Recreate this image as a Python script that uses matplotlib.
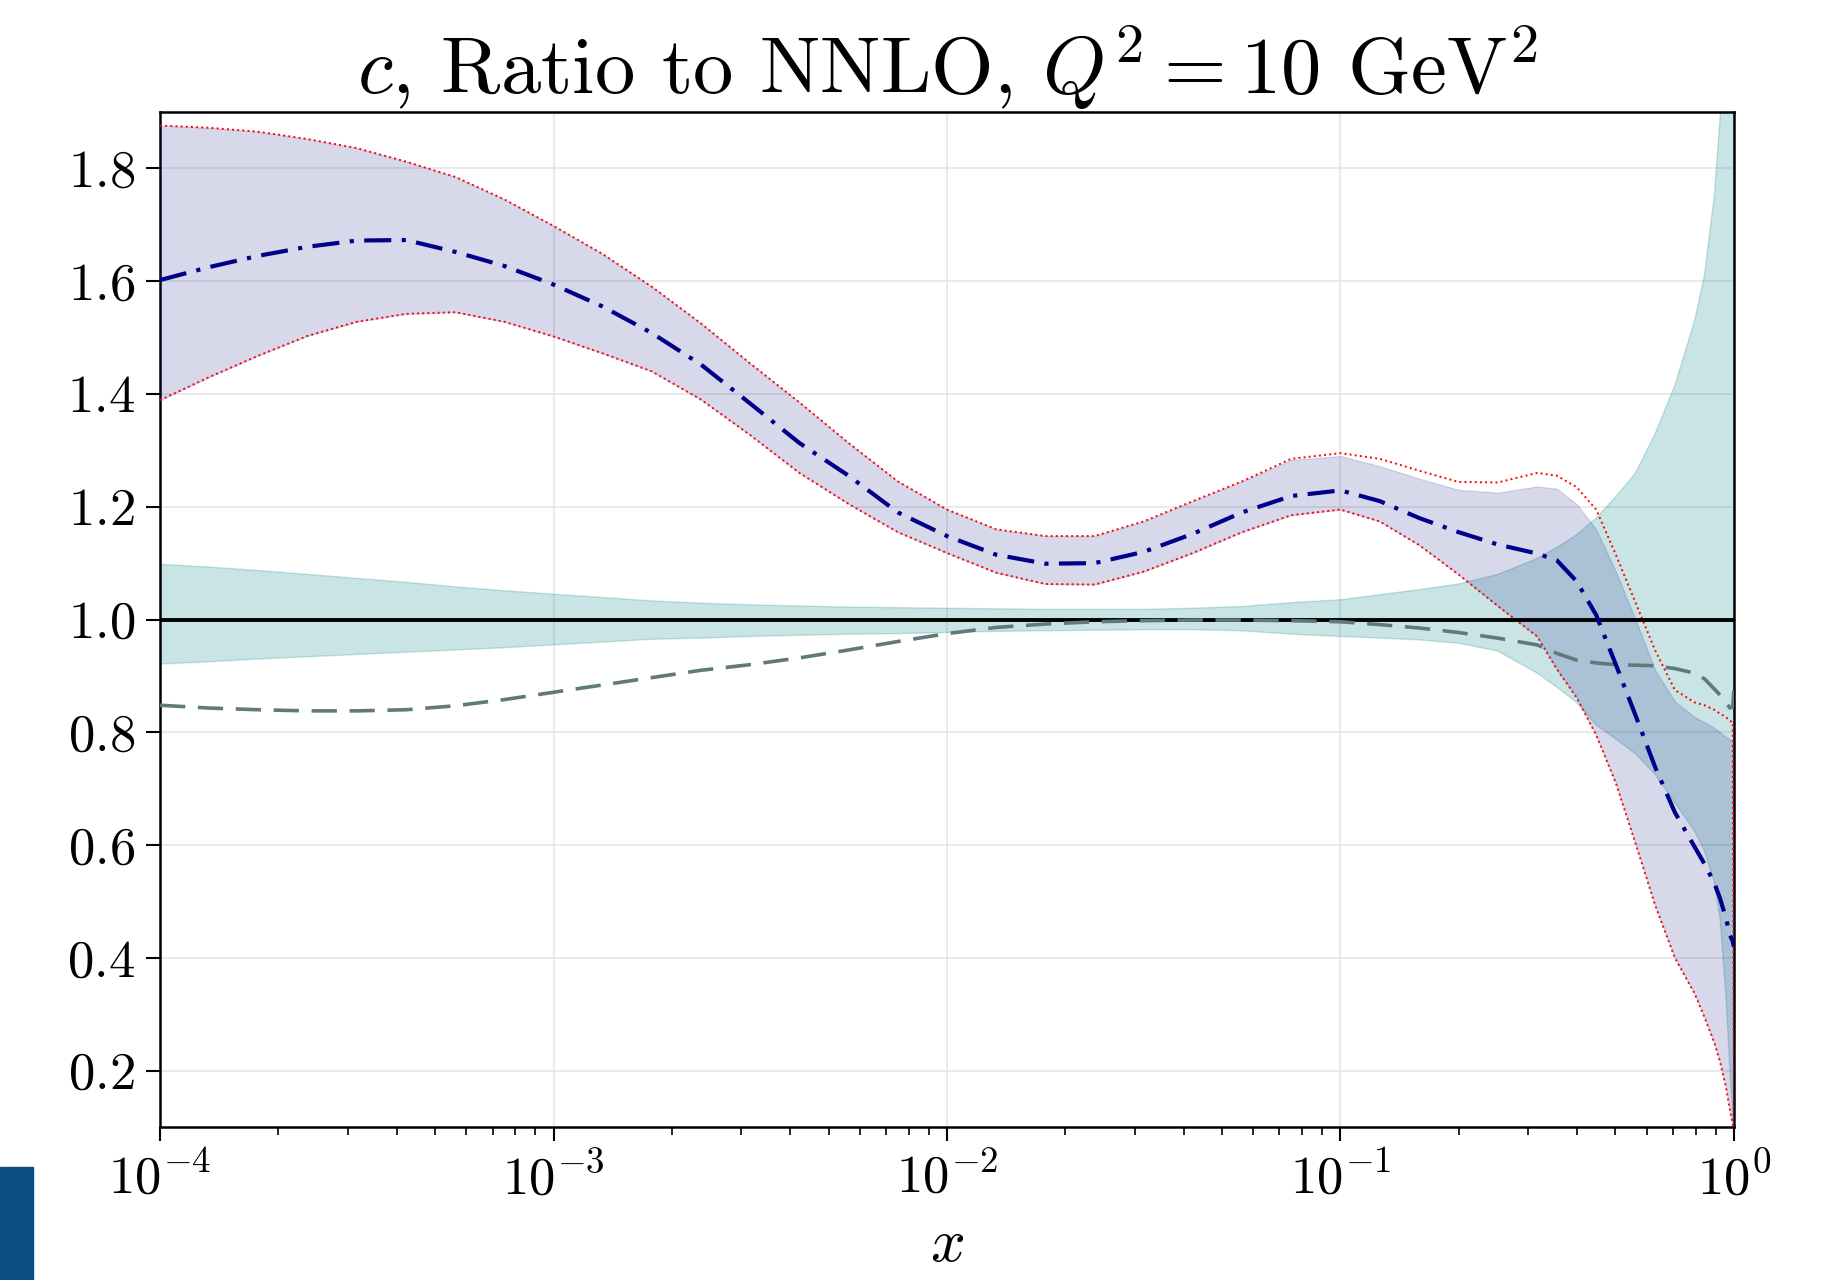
import matplotlib
matplotlib.use("Agg")
import matplotlib.pyplot as plt
import matplotlib.patches as patches
import numpy as np

plt.rcParams['font.family'] = 'serif'
plt.rcParams['font.serif'] = ['cmr10', 'DejaVu Serif']
plt.rcParams['mathtext.fontset'] = 'cm'
plt.rcParams['axes.formatter.use_mathtext'] = True

# x grid, stored as log10(x)
log10_x = [-4.0, -3.875, -3.75, -3.625, -3.5, -3.375, -3.25, -3.125, -3.0, -2.875,
           -2.75, -2.625, -2.5, -2.375, -2.25, -2.125, -2.0, -1.875, -1.75, -1.625,
           -1.5, -1.375, -1.25, -1.125, -1.0, -0.9, -0.8, -0.7, -0.6, -0.5,
           -0.45, -0.4, -0.35, -0.3, -0.25, -0.2, -0.15, -0.1, -0.075, -0.05,
           -0.035, -0.02, -0.01, -0.003, 0.0]

# central value of the fit (dash-dot)
central = [1.602, 1.625, 1.645, 1.661, 1.672, 1.673, 1.652, 1.627, 1.594, 1.555,
           1.508, 1.452, 1.383, 1.313, 1.255, 1.190, 1.148, 1.115, 1.099, 1.100,
           1.120, 1.152, 1.190, 1.219, 1.229, 1.210, 1.180, 1.155, 1.133, 1.117,
           1.105, 1.068, 1.008, 0.920, 0.830, 0.738, 0.658, 0.597, 0.567, 0.533,
           0.505, 0.470, 0.440, 0.430, 0.420]

# red dotted envelope
env_hi = [1.876, 1.872, 1.865, 1.852, 1.836, 1.812, 1.785, 1.745, 1.698, 1.648,
          1.590, 1.525, 1.454, 1.385, 1.313, 1.245, 1.195, 1.160, 1.148, 1.148,
          1.174, 1.210, 1.245, 1.285, 1.295, 1.285, 1.264, 1.244, 1.243, 1.260,
          1.255, 1.235, 1.195, 1.115, 1.030, 0.945, 0.875, 0.853, 0.848, 0.840,
          0.833, 0.827, 0.820, 0.818, 0.100]
env_lo = [1.389, 1.430, 1.468, 1.503, 1.528, 1.542, 1.545, 1.528, 1.502, 1.472,
          1.440, 1.390, 1.327, 1.260, 1.205, 1.155, 1.118, 1.083, 1.063, 1.062,
          1.085, 1.118, 1.155, 1.185, 1.195, 1.174, 1.132, 1.080, 1.024, 0.970,
          0.912, 0.862, 0.795, 0.710, 0.603, 0.493, 0.400, 0.337, 0.295, 0.250,
          0.215, 0.170, 0.130, 0.105, 0.080]

# shaded band of the fit
band_hi = [1.876, 1.872, 1.865, 1.852, 1.836, 1.812, 1.785, 1.745, 1.698, 1.648,
           1.590, 1.525, 1.454, 1.385, 1.313, 1.245, 1.195, 1.160, 1.148, 1.148,
           1.174, 1.210, 1.245, 1.283, 1.290, 1.272, 1.250, 1.230, 1.225, 1.236,
           1.232, 1.205, 1.160, 1.085, 1.000, 0.910, 0.855, 0.827, 0.818, 0.808,
           0.800, 0.792, 0.787, 0.785, 0.100]
band_lo = env_lo

# NNLO reference uncertainty band (teal)
ref_hi = [1.098, 1.093, 1.087, 1.080, 1.073, 1.066, 1.058, 1.051, 1.045, 1.039,
          1.033, 1.029, 1.026, 1.024, 1.022, 1.021, 1.020, 1.019, 1.018, 1.018,
          1.018, 1.020, 1.023, 1.030, 1.035, 1.044, 1.053, 1.063, 1.080, 1.108,
          1.128, 1.150, 1.180, 1.218, 1.260, 1.330, 1.415, 1.530, 1.610, 1.750,
          1.890, 2.200, 2.600, 3.000, 3.200]
ref_lo = [0.921, 0.925, 0.930, 0.934, 0.938, 0.942, 0.946, 0.950, 0.955, 0.960,
          0.965, 0.967, 0.970, 0.972, 0.974, 0.975, 0.977, 0.979, 0.980, 0.981,
          0.982, 0.982, 0.980, 0.974, 0.970, 0.967, 0.964, 0.958, 0.944, 0.905,
          0.880, 0.853, 0.813, 0.788, 0.762, 0.725, 0.675, 0.625, 0.590, 0.535,
          0.470, 0.330, 0.200, 0.120, 0.080]

# grey dashed comparison curve
other = [0.848, 0.843, 0.840, 0.838, 0.838, 0.840, 0.847, 0.858, 0.871, 0.884,
         0.897, 0.910, 0.920, 0.932, 0.946, 0.961, 0.975, 0.986, 0.992, 0.996,
         0.998, 0.999, 0.999, 0.998, 0.996, 0.991, 0.985, 0.977, 0.967, 0.955,
         0.940, 0.928, 0.923, 0.920, 0.919, 0.918, 0.913, 0.905, 0.895, 0.877,
         0.866, 0.853, 0.843, 0.845, 0.875]

x = 10.0 ** np.array(log10_x)

fig = plt.figure(figsize=(18.29, 12.8), dpi=100)
ax = fig.add_axes([0.0875, 0.1195, 0.8605, 0.793])

ax.fill_between(x, ref_lo, ref_hi, color=(0.0, 0.5, 0.5), alpha=0.21,
                edgecolor=(0.0, 0.5, 0.5), linewidth=1.0, zorder=2)
ax.fill_between(x, band_lo, band_hi, color=(0.1, 0.1, 0.55), alpha=0.17,
                linewidth=0.8, zorder=3)
ax.plot(x, env_hi, ':', color='red', lw=1.4, zorder=4)
ax.plot(x, env_lo, ':', color='red', lw=1.4, zorder=4)
ax.axhline(1.0, color='black', lw=2.8, zorder=5)
ax.plot(x, other, color='#5f7a78', lw=2.6, dashes=(7, 3.5), zorder=5)
ax.plot(x, central, color='#00008b', lw=3, dashes=(6.5, 2.5, 1, 2.5), zorder=6)

ax.set_xscale('log')
ax.set_xlim(1e-4, 1)
ax.set_ylim(0.1, 1.9)
ax.set_yticks([0.2, 0.4, 0.6, 0.8, 1.0, 1.2, 1.4, 1.6, 1.8])
ax.grid(True, which='major', color='#e6e6e6', lw=1.2, zorder=0)
ax.set_axisbelow(True)

ax.tick_params(axis='both', which='major', labelsize=38, length=10, width=1.5, pad=8)
ax.tick_params(axis='both', which='minor', length=6, width=1.2)
for s in ax.spines.values():
    s.set_linewidth(1.8)

ax.set_title(r'$c$, Ratio to NNLO, $Q^2 = 10$ GeV$^2$', fontsize=58, pad=12)
ax.set_xlabel(r'$x$', fontsize=44, labelpad=10)

# blue tab in the lower left corner
fig.patches.append(patches.Rectangle((0, 0), 0.018, 0.088, transform=fig.transFigure,
                                     color='#0b4f82', zorder=10))

fig.savefig('out.png', dpi=100)
